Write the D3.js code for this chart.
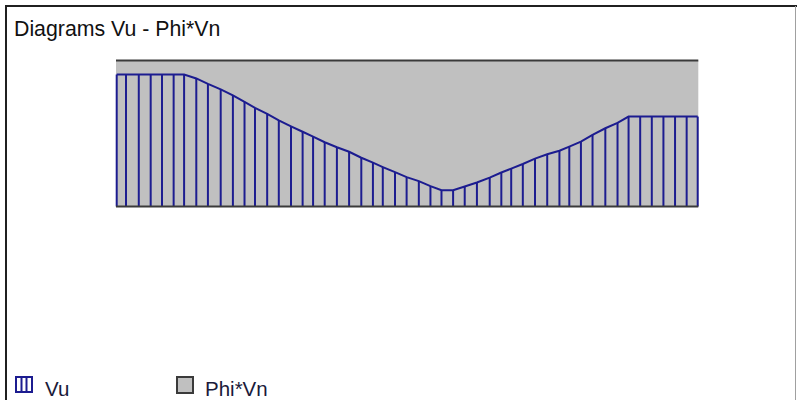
<!DOCTYPE html>
<html>
<head>
<meta charset="utf-8">
<script src="https://cdn.jsdelivr.net/npm/d3@7"></script>
<style>
  html, body { margin: 0; padding: 0; background: #ffffff; }
  svg { display: block; }
</style>
</head>
<body>
<svg id="chart" width="797" height="400"></svg>
<script>
// ---- data ----
const title = "Diagrams Vu - Phi*Vn";
const seriesNames = ["Vu", "Phi*Vn"];
const spanLength = 10;               // beam length (x domain)
const phiVn = 100;                   // design strength (constant)
const stations = [0.00, 0.16, 0.38, 0.585, 0.78, 0.98, 1.16, 1.37, 1.57, 1.79,
  2.00, 2.20, 2.38, 2.59, 2.79, 3.00, 3.20, 3.38, 3.58, 3.79,
  4.00, 4.21, 4.41, 4.58, 4.79, 4.99, 5.20, 5.40, 5.59, 5.79,
  5.99, 6.20, 6.42, 6.62, 6.79, 6.99, 7.20, 7.41, 7.62, 7.79,
  7.99, 8.19, 8.41, 8.62, 8.81, 9.01, 9.21, 9.41, 9.61, 9.81, 10.00];
const vu = [90.4, 90.4, 90.4, 90.4, 90.4, 90.4, 90.4, 87.7, 84.0, 80.2,
  76.1, 71.7, 67.6, 63.5, 59.0, 54.9, 51.2, 47.8, 44.0, 40.6,
  37.5, 33.4, 30.0, 27.0, 23.5, 20.1, 17.4, 14.0, 11.1, 11.1,
  13.7, 16.4, 19.8, 23.3, 25.9, 29.1, 32.8, 35.8, 38.2, 41.0,
  44.4, 49.1, 53.6, 57.3, 61.6, 61.6, 61.6, 61.6, 61.6, 61.6, 61.6];

// ---- drawing ----
const svg = d3.select("#chart");
const W = 797, H = 400;
const font = "'Liberation Sans', Arial, sans-serif";
const vuColor = "#1c1c90";
const grey = "#c0c0c0";
const dark = "#3a3a3a";

// frame
svg.append("line").attr("x1", 5).attr("x2", W).attr("y1", 6).attr("y2", 6)
  .attr("stroke", "#202020").attr("stroke-width", 2);
svg.append("line").attr("x1", 6).attr("x2", 6).attr("y1", 5).attr("y2", H)
  .attr("stroke", "#202020").attr("stroke-width", 2);
svg.append("line").attr("x1", 795.5).attr("x2", 795.5).attr("y1", 6).attr("y2", H)
  .attr("stroke", "#a0a0a0").attr("stroke-width", 1);

svg.append("text").attr("x", 14).attr("y", 36)
  .attr("font-family", font).attr("font-size", 21.3).attr("fill", "#111")
  .text(title);

const x = d3.scaleLinear().domain([0, spanLength]).range([116.7, 697.7]);
const y = d3.scaleLinear().domain([0, phiVn]).range([206.5, 60.5]);

// Phi*Vn area
svg.append("rect")
  .attr("x", x(0) - 0.7).attr("y", y(phiVn))
  .attr("width", x(spanLength) - x(0) + 1.3).attr("height", y(0) - y(phiVn))
  .attr("fill", grey);
svg.append("line")
  .attr("x1", x(0) - 0.7).attr("x2", x(spanLength) + 0.6)
  .attr("y1", y(phiVn)).attr("y2", y(phiVn))
  .attr("stroke", dark).attr("stroke-width", 2);

// Vu hatch lines
const pts = stations.map((s, i) => [s, vu[i]]);
svg.append("g").selectAll("line").data(pts).join("line")
  .attr("x1", d => x(d[0])).attr("x2", d => x(d[0]))
  .attr("y1", y(0)).attr("y2", d => y(d[1]))
  .attr("stroke", vuColor).attr("stroke-width", 2);

// Vu outline
svg.append("path")
  .datum(pts)
  .attr("d", d3.line().x(d => x(d[0])).y(d => y(d[1])))
  .attr("fill", "none").attr("stroke", vuColor).attr("stroke-width", 2)
  .attr("stroke-linejoin", "miter");

// baseline
svg.append("line")
  .attr("x1", x(0) - 0.7).attr("x2", x(spanLength) + 0.6)
  .attr("y1", y(0)).attr("y2", y(0))
  .attr("stroke", dark).attr("stroke-width", 2);

// legend
const lg = svg.append("g");
// Vu swatch
lg.append("rect").attr("x", 16).attr("y", 377).attr("width", 16).attr("height", 15)
  .attr("fill", "#fff").attr("stroke", vuColor).attr("stroke-width", 2);
[21.5, 26.5].forEach(xx => lg.append("line").attr("x1", xx).attr("x2", xx)
  .attr("y1", 377).attr("y2", 392).attr("stroke", vuColor).attr("stroke-width", 2));
lg.append("text").attr("x", 45).attr("y", 396)
  .attr("font-family", font).attr("font-size", 20.5).attr("fill", "#1a1a3a")
  .text(seriesNames[0]);
// Phi*Vn swatch
lg.append("rect").attr("x", 177).attr("y", 377).attr("width", 16).attr("height", 16)
  .attr("fill", grey).attr("stroke", dark).attr("stroke-width", 2);
lg.append("text").attr("x", 205).attr("y", 396)
  .attr("font-family", font).attr("font-size", 20.5).attr("fill", "#1a1a3a")
  .text(seriesNames[1]);
</script>
</body>
</html>
